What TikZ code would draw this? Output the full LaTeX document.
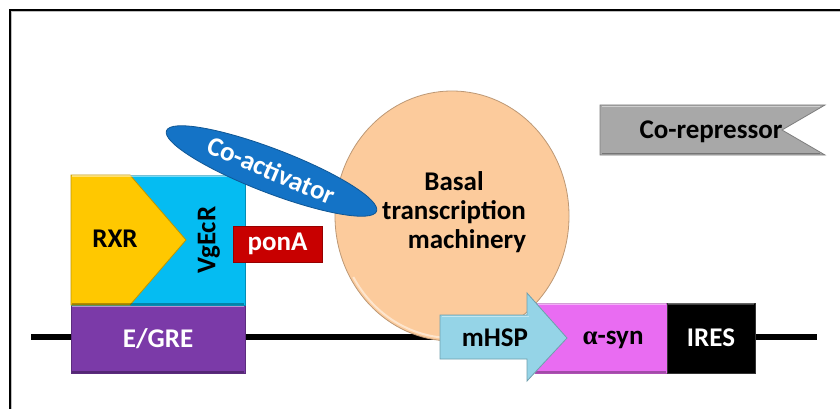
\documentclass[tikz,border=0pt]{standalone}
\usepackage{fontspec}
\setmainfont{Carlito}
\newfontfamily\greekserif{Liberation Serif}
\usetikzlibrary{shapes.geometric}
\definecolor{recblue}{HTML}{05BCF2}
\definecolor{rxryel}{HTML}{FFC800}
\definecolor{egrepur}{HTML}{7B3AA8}
\definecolor{ponred}{HTML}{C80000}
\definecolor{coactblue}{HTML}{1473C6}
\definecolor{peach}{HTML}{FCCB9C}
\definecolor{hspblue}{HTML}{95D4E7}
\definecolor{synmag}{HTML}{E96CF2}
\definecolor{corepgray}{HTML}{A8A8A8}
\tikzset{
  lbl/.style={inner sep=0pt, font=\fontsize{27}{29}\selectfont\bfseries},
  boxshape/.style={draw=#1!75!black, line width=0.8pt, fill=#1},
  hilite/.style={white, opacity=0.45, line width=1.6pt},
  shade/.style={black, opacity=0.3, line width=1.6pt},
}
\begin{document}
\begin{tikzpicture}[x=1pt,y=-1pt]
\useasboundingbox (0,0) rectangle (840,409);
\fill[white] (0,0) rectangle (840,409);
% frame
\coordinate (frBL) at (9.5,409);
\coordinate (frTL) at (9.5,10);
\coordinate (frTR) at (840,10);
\draw[gray!50, line width=1.2pt] (11,409) -- (11,11.8) -- (840,11.8);
\draw[line width=2pt] (frBL) -- (frTL) -- (frTR);
% DNA
\coordinate (dnaL) at (31,337);
\coordinate (dnaR) at (817,337);
\draw[line width=6pt] (dnaL) -- (dnaR);
% E/GRE
\node[boxshape=egrepur, minimum width=174pt, minimum height=68pt, inner sep=0pt] (egre) at (158,339) {};
\draw[hilite] ([xshift=1.5pt,yshift=-1.5pt]egre.north west) -- ([xshift=-1.5pt,yshift=-1.5pt]egre.north east);
\draw[shade] ([xshift=1.5pt,yshift=1.5pt]egre.south west) -- ([xshift=-1.5pt,yshift=1.5pt]egre.south east);
\node[lbl, text=white] (egretxt) at (158,339) {E/GRE};
% receptor
\node[boxshape=recblue, minimum width=174pt, minimum height=130pt, inner sep=0pt] (rec) at (158,240) {};
\draw[boxshape=rxryel] (71,175) -- (130,175) -- (186,240) -- (130,305) -- (71,305) -- cycle;
\draw[hilite] ([xshift=1.5pt,yshift=-1.5pt]rec.north west) -- ([xshift=-1.5pt,yshift=-1.5pt]rec.north east);
\draw[shade] ([xshift=1.5pt,yshift=1.5pt]rec.south west) -- ([xshift=-1.5pt,yshift=1.5pt]rec.south east);
\node[lbl] (rxr) at (115,239) {RXR};
\node[lbl, rotate=90] (vgecr) at (209,240) {VgEcR};
% ponA
\node[boxshape=ponred, minimum width=89pt, minimum height=36pt, inner sep=0pt] (pona) at (277.5,244) {};
\node[lbl, text=white] (ponatxt) at (277.5,244) {ponA};
% basal machinery
\node[ellipse, boxshape=peach, minimum width=234pt, minimum height=250pt, inner sep=0pt] (basal) at (452,216) {};
\draw[white, opacity=0.5, line width=2pt] (basal.center) ++(150:114pt and -122pt) arc[start angle=150, end angle=60, x radius=114pt, y radius=-122pt];
\node[lbl, align=center] (basaltxt) at (454,212) {Basal\\transcription\\\hspace*{26pt}machinery};
% co-activator
\node[ellipse, boxshape=coactblue, minimum width=225pt, minimum height=44pt, inner sep=0pt, rotate=-21] (coact) at (271.5,171) {};
\node[lbl, text=white, rotate=-23] (coacttxt) at (271.5,170) {Co-activator};
% alpha-syn and IRES
\node[boxshape=synmag, minimum width=132pt, minimum height=70pt, inner sep=0pt] (syn) at (601,338) {};
\draw[hilite] ([xshift=1.5pt,yshift=-1.5pt]syn.north west) -- ([xshift=-1.5pt,yshift=-1.5pt]syn.north east);
\draw[shade] ([xshift=1.5pt,yshift=1.5pt]syn.south west) -- ([xshift=-1.5pt,yshift=1.5pt]syn.south east);
\node[lbl] (syntxt) at (613,340) {{\greekserif α}-syn};
\node[boxshape=black, fill=black, draw=black!80, minimum width=88pt, minimum height=70pt, inner sep=0pt] (ires) at (711,338) {};
\draw[white, opacity=0.25, line width=1.4pt] ([xshift=1.5pt,yshift=-1.5pt]ires.north west) -- ([xshift=-1.5pt,yshift=-1.5pt]ires.north east);
\node[lbl, text=white] (irestxt) at (711,338) {IRES};
% mHSP promoter arrow
\draw[boxshape=hspblue] (440,315) -- (527,315) -- (527,293) -- (567,338) -- (527,381) -- (527,359) -- (440,359) -- cycle;
\draw[hilite] (441.5,316.5) -- (528.5,316.5);
\node[lbl] (hsptxt) at (495,338) {mHSP};
% co-repressor
\draw[boxshape=corepgray] (600,105) -- (825,105) -- (782,130) -- (825,155) -- (600,155) -- cycle;
\draw[hilite] (601.5,106.5) -- (820,106.5);
\draw[shade] (601.5,153.5) -- (820,153.5);
\node[lbl] (coreptxt) at (711,132) {Co-repressor};
\end{tikzpicture}
\end{document}
